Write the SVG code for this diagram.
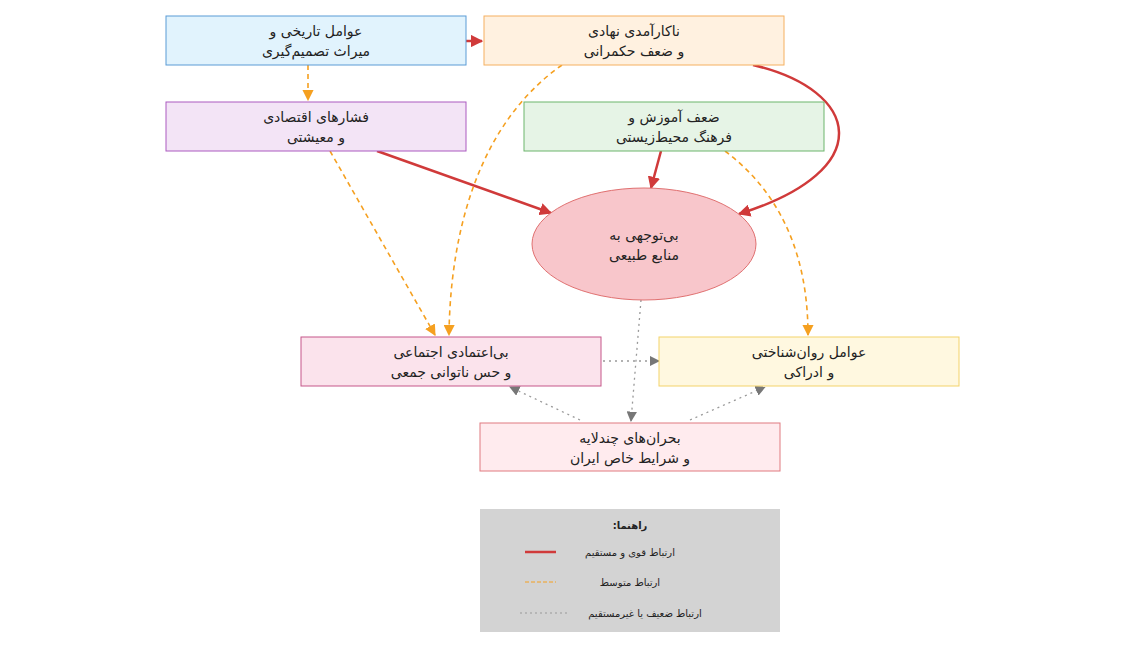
<svg xmlns="http://www.w3.org/2000/svg" width="1125" height="648" viewBox="0 0 1125 648">
<style>
text{font-family:"DejaVu Sans","Noto Sans",sans-serif;font-size:14px;fill:#222;text-anchor:middle}
.lg{font-size:10px}
.s{stroke:#d03a3a;stroke-width:2.5;fill:none}
.m{stroke:#f5a020;stroke-width:1.6;stroke-dasharray:5,4;fill:none}
.w{stroke:#999;stroke-width:1.3;stroke-dasharray:2,4;fill:none}
</style>
<defs>
<marker id="ar" viewBox="0 0 10 10" refX="9" refY="5" markerWidth="5" markerHeight="5" orient="auto"><path d="M0,0L10,5L0,10z" fill="#d03a3a"/></marker>
<marker id="ao" viewBox="0 0 10 10" refX="9" refY="5" markerWidth="7" markerHeight="7" orient="auto"><path d="M0,0L10,5L0,10z" fill="#f5a020"/></marker>
<marker id="ag" viewBox="0 0 10 10" refX="9" refY="5" markerWidth="8" markerHeight="8" orient="auto"><path d="M0,0L10,5L0,10z" fill="#777"/></marker>
</defs>
<rect width="1125" height="648" fill="#fff"/>
<g id="connectors">
<path class="s" d="M466,41H482" marker-end="url(#ar)"/>
<path class="m" d="M308,65V100" marker-end="url(#ao)"/>
<path class="s" d="M753,65C860,90 880,170 739,214" marker-end="url(#ar)"/>
<path class="s" d="M377,151L551,213" marker-end="url(#ar)"/>
<path class="s" d="M661,151L651,188" marker-end="url(#ar)"/>
<path class="m" d="M562,65C470,130 450,250 449,335" marker-end="url(#ao)"/>
<path class="m" d="M330,151L435,335" marker-end="url(#ao)"/>
<path class="m" d="M725,151C790,200 808,270 808,335" marker-end="url(#ao)"/>
<path class="w" d="M641,300L631,421" marker-end="url(#ag)"/>
<path class="w" d="M603,361H659" marker-end="url(#ag)"/>
<path class="w" d="M580,420L510,387" marker-end="url(#ag)"/>
<path class="w" d="M690,420L765,387" marker-end="url(#ag)"/>
</g>
<g id="nA"><rect x="166" y="16" width="300" height="49" fill="#e1f3fd" stroke="#5b9bd5"/><text x="316" y="36">عوامل تاریخی و</text><text x="316" y="56">میراث تصمیم‌گیری</text></g>
<g id="nB"><rect x="484" y="16" width="300" height="49" fill="#fff1e0" stroke="#f5b060"/><text x="634" y="36">ناکارآمدی نهادی</text><text x="634" y="56">و ضعف حکمرانی</text></g>
<g id="nC"><rect x="166" y="102" width="300" height="49" fill="#f3e4f6" stroke="#ab5bc0"/><text x="316" y="122">فشارهای اقتصادی</text><text x="316" y="142">و معیشتی</text></g>
<g id="nD"><rect x="524" y="102" width="300" height="49" fill="#e6f4e6" stroke="#6cb56c"/><text x="674" y="122">ضعف آموزش و</text><text x="674" y="142">فرهنگ محیط‌زیستی</text></g>
<g id="nE"><ellipse cx="644" cy="244" rx="112" ry="56" fill="#f8c6cb" stroke="#e07070"/><text x="644" y="240">بی‌توجهی به</text><text x="644" y="260">منابع طبیعی</text></g>
<g id="nF"><rect x="301" y="337" width="300" height="49" fill="#fbe3ec" stroke="#c5578a"/><text x="451" y="357">بی‌اعتمادی اجتماعی</text><text x="451" y="377">و حس ناتوانی جمعی</text></g>
<g id="nG"><rect x="659" y="337" width="300" height="49" fill="#fff8e0" stroke="#f3d36a"/><text x="809" y="357">عوامل روان‌شناختی</text><text x="809" y="377">و ادراکی</text></g>
<g id="nH"><rect x="480" y="423" width="300" height="48" fill="#ffebee" stroke="#e07a80"/><text x="630" y="443">بحران‌های چندلایه</text><text x="630" y="463">و شرایط خاص ایران</text></g>
<g id="legend">
<rect x="480" y="509" width="300" height="123" fill="#d3d3d3"/>
<text x="630" y="529" class="lg" font-weight="bold" direction="rtl" style="text-anchor:middle">راهنما:</text>
<line x1="525" y1="552" x2="556" y2="552" stroke="#d03a3a" stroke-width="2.5"/>
<text x="630" y="556" class="lg">ارتباط قوی و مستقیم</text>
<line x1="525" y1="582" x2="556" y2="582" stroke="#f5a020" stroke-width="1" stroke-dasharray="4,2"/>
<text x="630" y="586" class="lg">ارتباط متوسط</text>
<line x1="520" y1="613" x2="568" y2="613" stroke="#999" stroke-width="1" stroke-dasharray="2,3"/>
<text x="645" y="617" class="lg">ارتباط ضعیف یا غیرمستقیم</text>
</g>
</svg>
